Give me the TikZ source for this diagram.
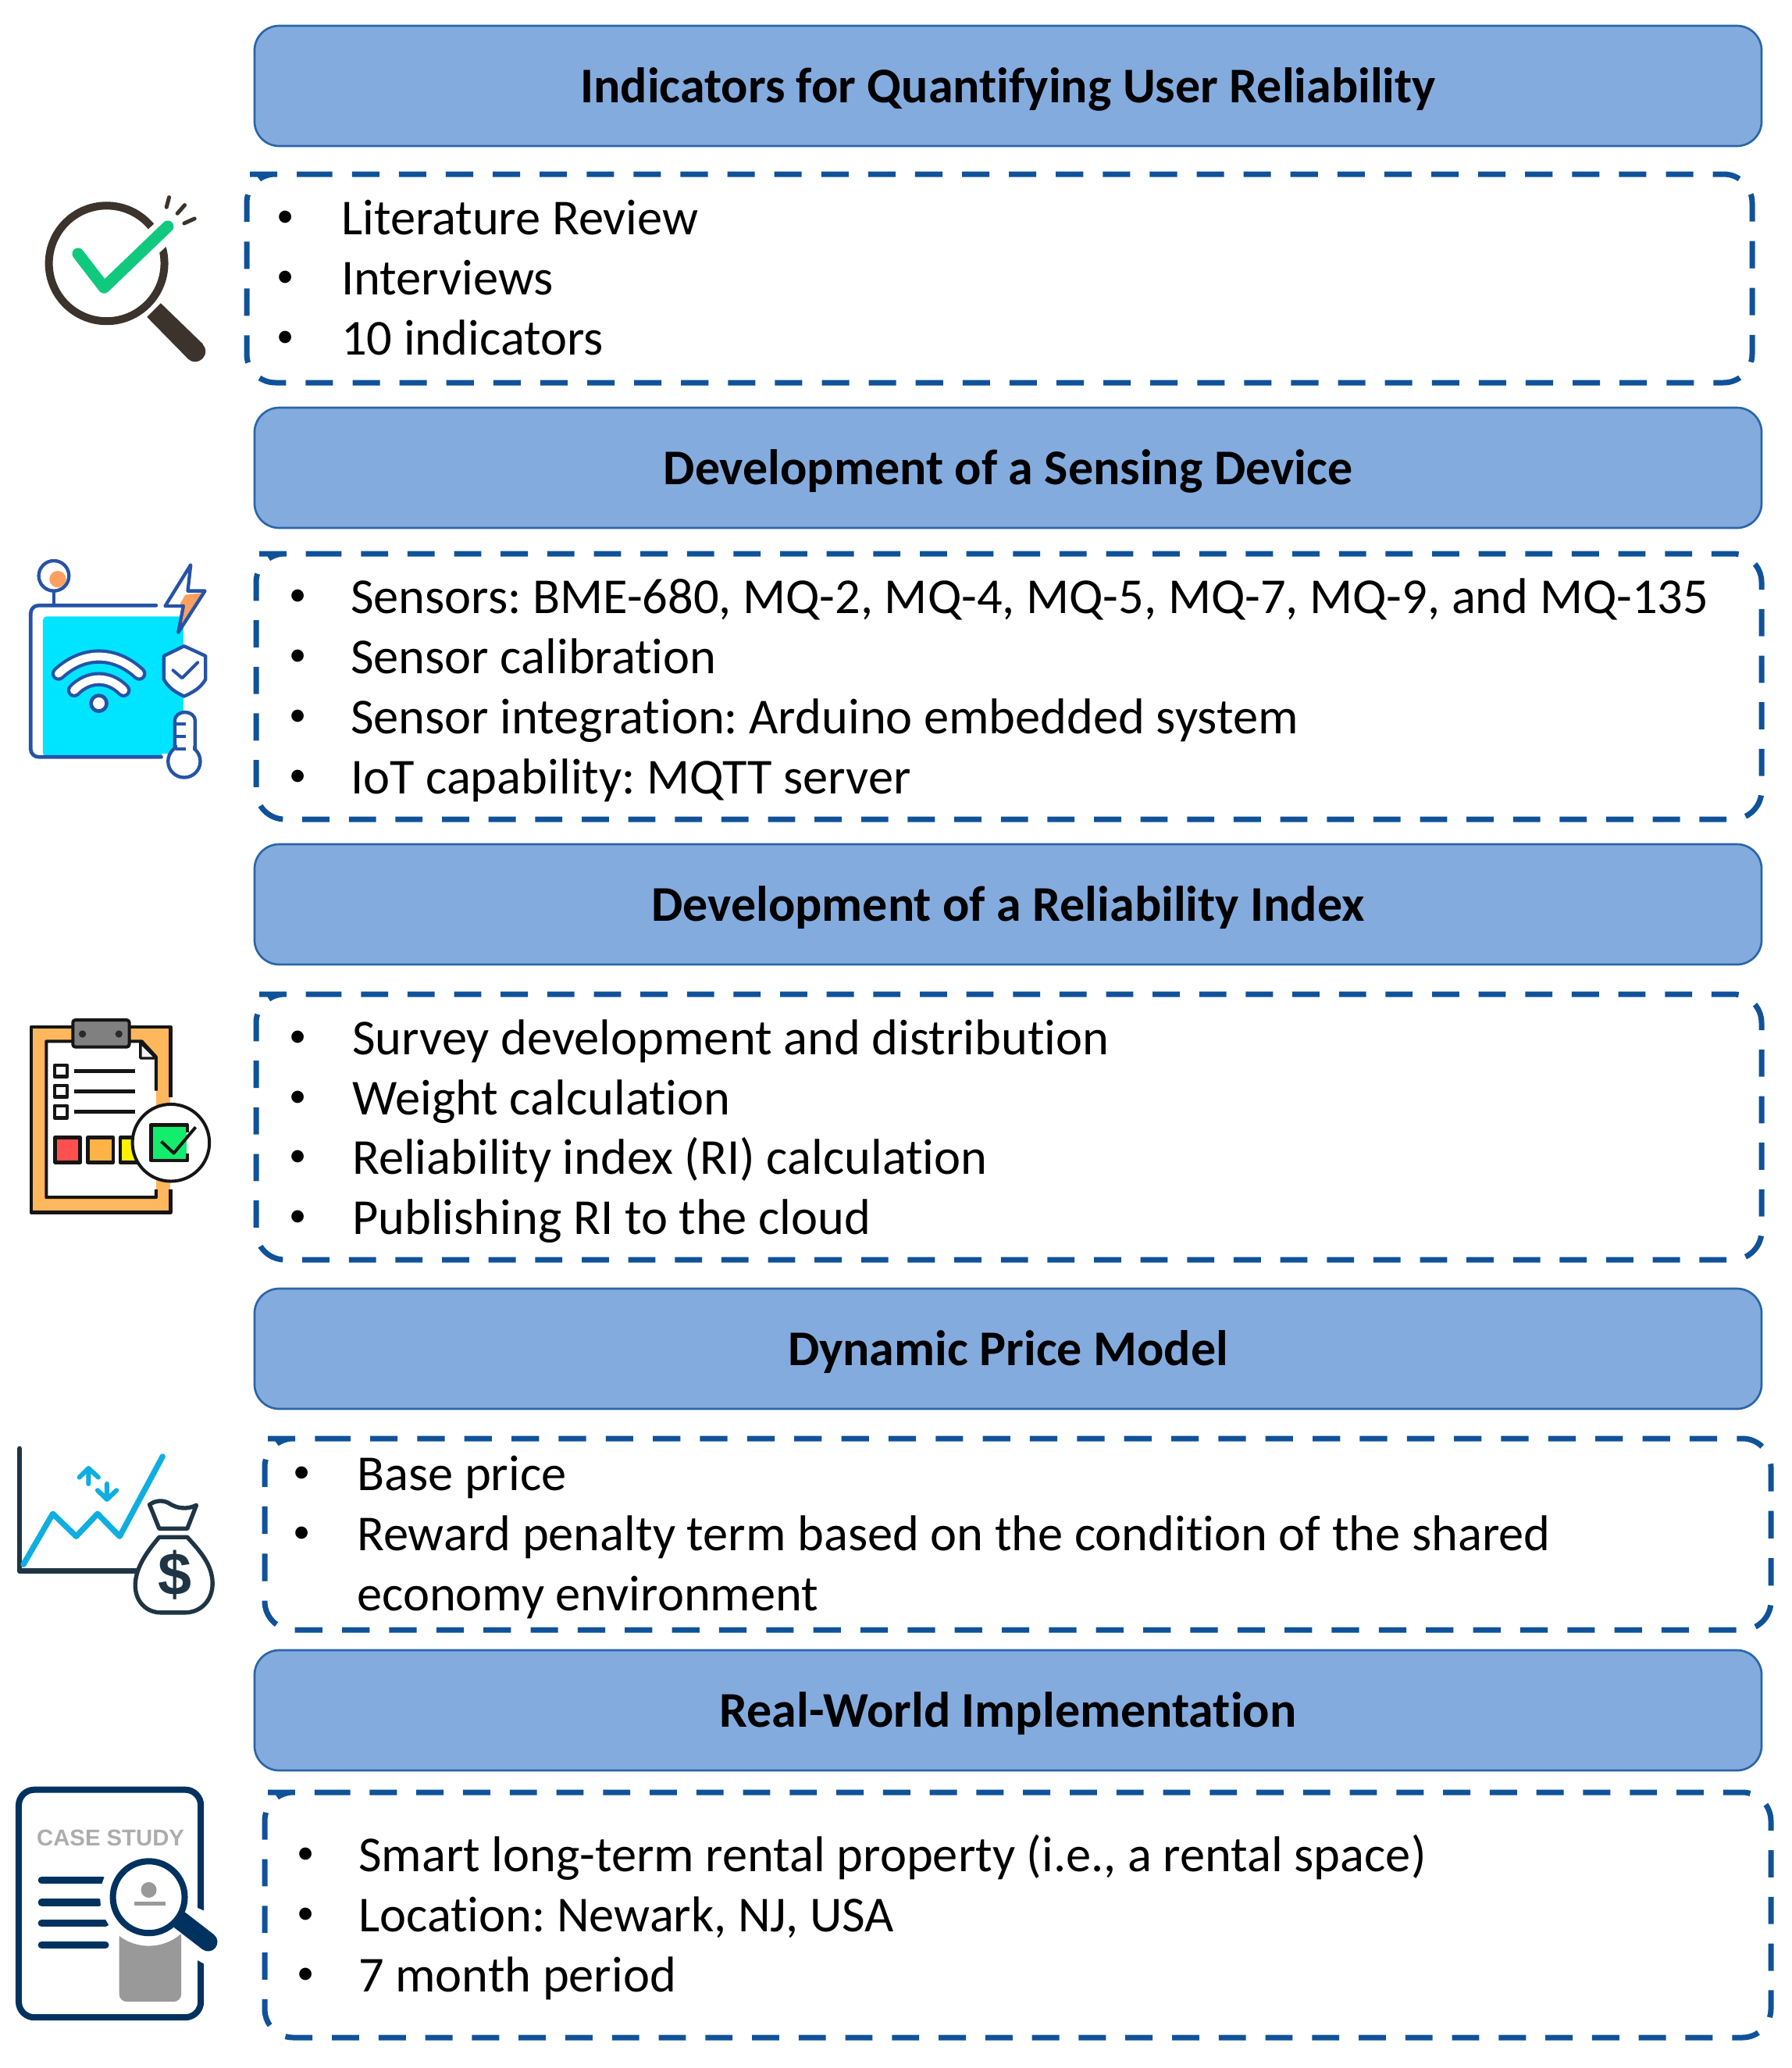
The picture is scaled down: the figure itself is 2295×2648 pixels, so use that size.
\documentclass[tikz,border=0pt]{standalone}
\usepackage{fontspec}
\setmainfont[Ligatures=NoCommon]{Carlito}
\newfontfamily\iconfont{Liberation Sans}
\frenchspacing
\definecolor{titlefill}{HTML}{84ABDE}
\definecolor{titleline}{HTML}{2A66A8}
\definecolor{dashblue}{HTML}{0F5299}
\definecolor{lensdark}{HTML}{3B332C}
\definecolor{checkgreen}{HTML}{10C97E}
\definecolor{wifiblue}{HTML}{2553A6}
\definecolor{wificyan}{HTML}{00E5FF}
\definecolor{softorange}{HTML}{FFA060}
\definecolor{boardorange}{HTML}{FFB75E}
\definecolor{inkblack}{HTML}{151515}
\definecolor{chartdark}{HTML}{1F3545}
\definecolor{chartblue}{HTML}{0FAEE0}
\definecolor{navydoc}{HTML}{003260}
\definecolor{sqred}{HTML}{FF5050}
\definecolor{sqorange}{HTML}{FFB347}
\definecolor{sqgreen}{HTML}{14EC6E}
\tikzset{
  titlebox/.style={draw=titleline,fill=titlefill,line width=0.08cm,rounded corners=0.95cm,
    minimum width=57.9cm,minimum height=4.62cm,inner sep=0,text height=0.85cm,text depth=0cm,
    font=\fontsize{54.6}{60}\selectfont\bfseries,text=black},
  dashline/.style={draw=dashblue,line width=0.21cm,rounded corners=1.1cm},
  itemtext/.style={anchor=base west,inner sep=0,font=\fontsize{55}{60}\selectfont,text=black},
  bulletdot/.style={anchor=base,inner sep=0,font=\fontsize{38}{40}\selectfont,text=black},
  iconscope/.style={x=0.01cm,y=-0.01cm,line join=round},
}
\newcommand{\itm}[5]{%
  \path (#2,#4) ++(0,-10) node[bulletdot] (#1b) {•};
  \node[itemtext] (#1t) at (#3,#4) {#5};
}
% the dash period is fitted to the perimeter, so that a gap closes the outline
\newcommand{\dpanel}[4]{%
  \pgfmathsetmacro\dperim{2*((#3-#1)+(#4-#2))-1.717*36.67}%
  \pgfmathsetmacro\dcount{round(\dperim/60)}%
  \pgfmathsetmacro\dpon{\dperim/\dcount*0.03*7/12}%
  \pgfmathsetmacro\dpoff{\dperim/\dcount*0.03*5/12}%
  \draw[dashline,dash pattern=on \dpon cm off \dpoff cm] (#1+38,#2) -- (#3,#2) -- (#3,#4) -- (#1,#4) -- (#1,#2) -- cycle;
}
\newcommand{\ttl}[1]{\raisebox{-0.225cm}{#1}}
\begin{document}
\begin{tikzpicture}[x=0.03cm,y=-0.03cm]
\useasboundingbox (0,0) rectangle (2295,2648);
\fill[white] (0,0) rectangle (2295,2648);

% title bars
\node[titlebox] (t1) at (1291,110) {\ttl{Indicators for Quantifying User Reliability}};
\node[titlebox] (t2) at (1291,599) {\ttl{Development of a Sensing Device}};
\node[titlebox] (t3) at (1291,1158) {\ttl{Development of a Reliability Index}};
\node[titlebox] (t4) at (1291,1727) {\ttl{Dynamic Price Model}};
\node[titlebox] (t5) at (1291,2190) {\ttl{Real-World Implementation}};

% dashed panels
\dpanel{316}{223}{2244}{490}
\dpanel{328}{709}{2256}{1049}
\dpanel{328}{1273}{2256}{1613}
\dpanel{339}{1842}{2268}{2087}
\dpanel{339}{2295}{2268}{2609}

% panel 1
\itm{a1}{366}{437}{300}{Literature Review}
\itm{a2}{366}{437}{377}{Interviews}
\itm{a3}{366}{437}{454}{10 indicators}
% panel 2
\itm{b1}{382}{449}{785}{Sensors: BME-680, MQ-2, MQ-4, MQ-5, MQ-7, MQ-9, and MQ-135}
\itm{b2}{382}{449}{862}{Sensor calibration}
\itm{b3}{382}{449}{939}{Sensor integration: Arduino embedded system}
\itm{b4}{382}{449}{1016}{IoT capability: MQTT server}
% panel 3
\itm{c1}{382}{451}{1350}{Survey development and distribution}
\itm{c2}{382}{451}{1427}{Weight calculation}
\itm{c3}{382}{451}{1503}{Reliability index (RI) calculation}
\itm{c4}{382}{451}{1580}{Publishing RI to the cloud}
% panel 4
\itm{e1}{387}{457}{1908}{Base price}
\itm{e2}{387}{457}{1985}{Reward penalty term based on the condition of the shared}
\node[itemtext] (e3) at (457,2062) {economy environment};
% panel 5
\itm{f1}{392}{459}{2396}{Smart long-term rental property (i.e., a rental space)}
\itm{f2}{392}{459}{2473}{Location: Newark, NJ, USA}
\itm{f3}{392}{459}{2550}{7 month period}

% icon 1: magnifier with check
\begin{scope}[shift={(0,200)},iconscope]
  \draw[lensdark,line width=0.3cm] (410,412) circle[radius=222];
  \draw[white,line width=0.95cm] (400,505) -- (660,262);
  \fill[lensdark] (618,565) -- (565,618) -- (722,778) -- (780,722) -- cycle;
  \fill[lensdark] (750,750) circle[radius=40];
  \draw[checkgreen,line width=0.45cm,line cap=round] (300,375) -- (400,505) -- (645,270);
  \draw[lensdark,line width=0.15cm,line cap=round] (650,158) -- (640,196) (710,188) -- (682,220) (748,240) -- (708,258);
\end{scope}

% icon 2: wifi device
\begin{scope}[shift={(0,690)},iconscope]
  \fill[wificyan,rounded corners=0.15cm] (165,298) rectangle (705,838);
  \fill[white] (620,845) rectangle (720,825);
  \draw[wifiblue,line width=0.14cm,rounded corners=0.3cm,line cap=round] (600,256) -- (118,256) -- (118,838) -- (620,838);
  \draw[wifiblue,line width=0.12cm] (207,205) -- (207,256);
  \draw[wifiblue,line width=0.12cm,fill=white] (207,142) circle[radius=58];
  \fill[softorange] (222,155) circle[radius=32];
  \draw[wifiblue,line width=0.12cm] (207,142) circle[radius=58];
  % bolt
  \fill[white] (733,100) -- (635,258) -- (705,258) -- (685,360) -- (788,200) -- (722,200) -- cycle;
  \fill[softorange] (712,215) -- (778,208) -- (695,335) -- (707,255) -- (692,250) -- cycle;
  \draw[wifiblue,line width=0.13cm] (733,100) -- (635,258) -- (705,258) -- (685,360) -- (788,200) -- (722,200) -- cycle;
  % wifi arcs
  \draw[wifiblue,line width=0.55cm,line cap=round] (225,518) .. controls (320,430) and (440,430) .. (535,518);
  \draw[white,line width=0.3cm,line cap=round] (225,518) .. controls (320,430) and (440,430) .. (535,518);
  \draw[wifiblue,line width=0.55cm,line cap=round] (285,582) .. controls (340,525) and (420,525) .. (475,582);
  \draw[white,line width=0.3cm,line cap=round] (285,582) .. controls (340,525) and (420,525) .. (475,582);
  \draw[wifiblue,line width=0.14cm,fill=white] (380,632) circle[radius=30];
  % shield
  \draw[wifiblue,line width=0.13cm,fill=white] (708,412) -- (790,450) -- (790,540) .. controls (770,575) and (740,590) .. (708,605) .. controls (676,590) and (650,575) .. (630,540) -- (630,450) -- cycle;
  \draw[wifiblue,line width=0.12cm,line cap=round] (665,505) -- (700,535) -- (760,475);
  % thermometer
  \draw[wifiblue,line width=0.13cm,fill=white] (672,810) -- (672,700) .. controls (672,655) and (750,655) .. (750,700) -- (750,810);
  \draw[wifiblue,line width=0.13cm,fill=white] (708,855) circle[radius=62];
  \fill[white] (680,785) rectangle (742,825);
  \draw[wifiblue,line width=0.12cm] (675,712) -- (715,712) (675,760) -- (715,760) (675,808) -- (715,808);
\end{scope}

% icon 3: clipboard
\begin{scope}[shift={(0,1270)},iconscope]
  \fill[boardorange] (120,135) rectangle (655,848);
  \draw[inkblack,line width=0.14cm] (655,405) -- (655,135) -- (120,135) -- (120,848) -- (655,848) -- (655,760);
  \fill[white] (178,190) -- (545,190) -- (600,250) -- (600,790) -- (178,790) -- cycle;
  \draw[inkblack,line width=0.12cm] (600,380) -- (600,250) -- (545,190) -- (178,190) -- (178,790) -- (600,790) -- (600,760);
  \draw[inkblack,line width=0.1cm,fill=white!90!gray] (540,195) -- (540,255) -- (600,255) -- cycle;
  \draw[inkblack,line width=0.12cm,fill=gray,rounded corners=0.1cm] (280,108) rectangle (497,212);
  \fill[inkblack!80!gray] (317,162) circle[radius=14] (457,162) circle[radius=14];
  \draw[inkblack,line width=0.14cm,fill=white] (210,282) rectangle (258,326);
  \draw[inkblack,line width=0.14cm,fill=white] (210,360) rectangle (258,404);
  \draw[inkblack,line width=0.14cm,fill=white] (210,438) rectangle (258,484);
  \draw[inkblack,line width=0.14cm] (285,305) -- (520,305) (285,383) -- (520,383) (285,461) -- (520,461);
  \draw[inkblack,line width=0.14cm,fill=sqred] (212,560) rectangle (308,655);
  \draw[inkblack,line width=0.14cm,fill=sqorange] (338,560) rectangle (435,655);
  \draw[inkblack,line width=0.14cm,fill=yellow] (462,560) rectangle (540,655);
  \draw[inkblack,line width=0.12cm,fill=white] (657,580) circle[radius=148];
  \fill[sqgreen] (580,512) rectangle (718,648);
  \draw[inkblack,line width=0.14cm] (720,540) -- (720,512) -- (580,512) -- (580,648) -- (720,648) -- (720,620);
  \draw[inkblack,line width=0.12cm] (620,575) -- (668,620) -- (752,520);
\end{scope}

% icon 4: price chart and money bag
\begin{scope}[shift={(0,1830)},iconscope]
  \draw[chartdark,line width=0.2cm,line cap=round] (75,75) -- (75,545) -- (530,545);
  \draw[chartblue,line width=0.22cm,line cap=round] (90,520) -- (203,325) -- (293,412) -- (375,325) -- (460,412) -- (625,105);
  \draw[chartblue,line width=0.18cm,line cap=round] (340,210) -- (340,150) (305,185) -- (340,150) -- (378,185);
  \draw[chartblue,line width=0.18cm,line cap=round] (411,210) -- (411,270) (375,235) -- (411,270) -- (448,235);
  \draw[chartdark,line width=0.16cm,fill=white] (612,382) -- (720,382) -- (755,292) .. controls (720,310) and (680,305) .. (650,285) .. controls (625,270) and (595,275) .. (575,290) -- cycle;
  \draw[chartdark,line width=0.16cm,fill=white] (612,415) -- (720,415) .. controls (770,470) and (815,520) .. (817,590) .. controls (818,660) and (770,705) .. (710,705) -- (620,705) .. controls (560,705) and (520,660) .. (520,600) .. controls (520,530) and (570,465) .. (612,415) -- cycle;
  \node[inner sep=0,text=chartdark,font=\iconfont\bfseries\fontsize{66}{66}\selectfont] (dollar) at (672,560) {\$};
\end{scope}

% icon 5: case study
\begin{scope}[shift={(0,2270)},iconscope]
  \draw[navydoc,line width=0.24cm,rounded corners=0.6cm] (72,65) rectangle (772,940);
  \fill[white] (750,515) -- (795,535) -- (795,740) -- (750,715) -- cycle;
  \node[inner sep=0,text=black!32,font=\iconfont\bfseries\fontsize{25}{27}\selectfont] (casetitle) at (425,250) {CASE STUDY};
  \draw[navydoc,line width=0.28cm,line cap=round] (160,413) -- (395,413) (160,498) -- (380,498) (160,578) -- (405,578) (160,662) -- (405,662);
  \fill[black!40,rounded corners=0.3cm] (458,600) rectangle (697,880);
  \fill[white] (572,478) circle[radius=187];
  \draw[navydoc,line width=0.72cm,line cap=round] (690,565) -- (800,650);
  \draw[navydoc,line width=0.24cm,fill=white] (572,478) circle[radius=138];
  \fill[black!40] (572,450) circle[radius=30];
  \draw[black!40,line width=0.14cm] (515,503) -- (635,503);
\end{scope}
\end{tikzpicture}
\end{document}
